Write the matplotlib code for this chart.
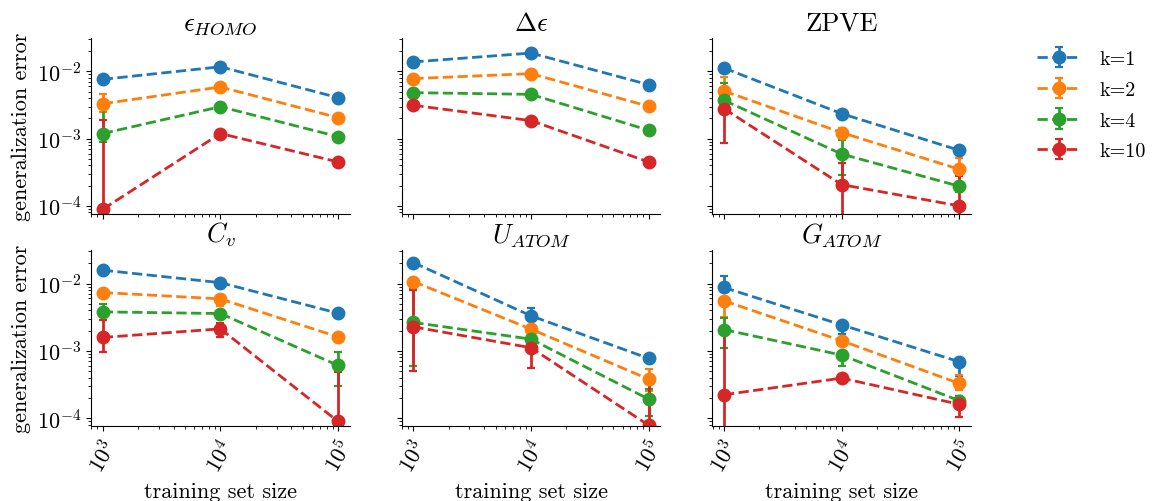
import numpy as np
import matplotlib
matplotlib.use('Agg')
import matplotlib.pyplot as plt

plt.rcParams.update({
    'font.family': 'serif', 'font.serif': ['cmr10'],
    'mathtext.fontset': 'cm', 'axes.unicode_minus': False,
    'axes.formatter.use_mathtext': True, 'font.size': 16,
    'axes.spines.right': False, 'axes.spines.top': False,
})

N_TRAIN = [1e3, 1e4, 1e5]
K_LABELS = ['k=1', 'k=2', 'k=4', 'k=10']
COLORS = ['tab:blue', 'tab:orange', 'tab:green', 'tab:red']
TITLES = [r'$\epsilon_{HOMO}$', r'$\Delta\epsilon$', 'ZPVE',
          r'$C_v$', r'$U_{ATOM}$', r'$G_{ATOM}$']

# rows: k=1, k=2, k=4, k=10 ; columns: 1e3, 1e4, 1e5
# *_LO / *_HI are the ends of the error bars (0 = bar runs off the log axis)
HOMO_MEAN = [[7.6e-3, 1.17e-2, 4.06e-3], [3.3e-3, 5.86e-3, 2.05e-3],
             [1.19e-3, 2.98e-3, 1.07e-3], [8.9e-5, 1.19e-3, 4.5e-4]]
HOMO_LO = [[7.2e-3, 1.12e-2, 3.9e-3], [2.5e-3, 5.5e-3, 1.95e-3],
           [8.9e-4, 2.8e-3, 1.0e-3], [0, 1.1e-3, 4.2e-4]]
HOMO_HI = [[8.0e-3, 1.22e-2, 4.2e-3], [4.6e-3, 6.2e-3, 2.15e-3],
           [2.8e-3, 3.2e-3, 1.12e-3], [1.87e-3, 1.28e-3, 4.8e-4]]

GAP_MEAN = [[1.38e-2, 1.87e-2, 6.33e-3], [7.8e-3, 9.25e-3, 3.02e-3],
            [4.82e-3, 4.55e-3, 1.33e-3], [3.13e-3, 1.85e-3, 4.5e-4]]
GAP_LO = [[1.33e-2, 1.8e-2, 6.1e-3], [7.5e-3, 8.9e-3, 2.9e-3],
          [4.6e-3, 4.35e-3, 1.27e-3], [3.0e-3, 1.77e-3, 3.9e-4]]
GAP_HI = [[1.43e-2, 1.94e-2, 6.55e-3], [8.1e-3, 9.6e-3, 3.14e-3],
          [5.0e-3, 4.75e-3, 1.39e-3], [3.26e-3, 1.93e-3, 5.1e-4]]

ZPVE_MEAN = [[1.12e-2, 2.35e-3, 6.7e-4], [5.1e-3, 1.23e-3, 3.5e-4],
             [3.71e-3, 5.9e-4, 1.96e-4], [2.79e-3, 2.07e-4, 1.0e-4]]
ZPVE_LO = [[1.08e-2, 2.25e-3, 5.9e-4], [3.0e-3, 1.0e-3, 2.2e-4],
           [2.3e-3, 2.92e-4, 1.6e-4], [8.73e-4, 0, 0]]
ZPVE_HI = [[1.16e-2, 2.45e-3, 7.5e-4], [8.15e-3, 1.45e-3, 5.2e-4],
           [6.7e-3, 9.44e-4, 2.3e-4], [4.7e-3, 4.4e-4, 2.76e-4]]

CV_MEAN = [[1.58e-2, 1.03e-2, 3.62e-3], [7.35e-3, 5.91e-3, 1.61e-3],
           [3.79e-3, 3.58e-3, 6.05e-4], [1.58e-3, 2.12e-3, 8.9e-5]]
CV_LO = [[1.5e-2, 9.1e-3, 3.5e-3], [7.0e-3, 4.66e-3, 1.55e-3],
         [3.4e-3, 3.0e-3, 3.0e-4], [9.44e-4, 1.63e-3, 7e-5]]
CV_HI = [[1.66e-2, 1.12e-2, 3.75e-3], [7.7e-3, 6.6e-3, 1.67e-3],
         [4.93e-3, 3.9e-3, 9.55e-4], [2.85e-3, 2.6e-3, 4.77e-4]]

U_MEAN = [[2.05e-2, 3.31e-3, 7.7e-4], [1.07e-2, 2.1e-3, 3.79e-4],
          [2.64e-3, 1.49e-3, 1.91e-4], [2.27e-3, 1.11e-3, 7.8e-5]]
U_LO = [[1.95e-2, 2.9e-3, 7.3e-4], [8.0e-3, 1.8e-3, 2.5e-4],
        [5.98e-4, 1.1e-3, 1.08e-4], [5.05e-4, 5.47e-4, 5e-5]]
U_HI = [[2.15e-2, 4.4e-3, 8.1e-4], [1.2e-2, 2.4e-3, 5.35e-4],
        [8.43e-3, 1.7e-3, 2.7e-4], [8.0e-3, 1.5e-3, 3.2e-4]]

G_MEAN = [[8.73e-3, 2.43e-3, 6.87e-4], [5.53e-3, 1.41e-3, 3.27e-4],
          [2.07e-3, 8.63e-4, 1.81e-4], [2.22e-4, 3.93e-4, 1.6e-4]]
G_LO = [[7.5e-3, 1.77e-3, 4.26e-4], [3.13e-3, 1.25e-3, 2.6e-4],
        [1.1e-3, 5.98e-4, 1.5e-4], [0, 3.6e-4, 1.02e-4]]
G_HI = [[1.3e-2, 2.7e-3, 7.6e-4], [6.2e-3, 1.55e-3, 4.35e-4],
        [3.06e-3, 9.5e-4, 2.1e-4], [2.0e-3, 4.3e-4, 2.15e-4]]

PANELS = [(HOMO_MEAN, HOMO_LO, HOMO_HI), (GAP_MEAN, GAP_LO, GAP_HI),
          (ZPVE_MEAN, ZPVE_LO, ZPVE_HI), (CV_MEAN, CV_LO, CV_HI),
          (U_MEAN, U_LO, U_HI), (G_MEAN, G_LO, G_HI)]

fig, axes = plt.subplots(2, 3, figsize=(11.53, 5.02), dpi=100, sharex=True, sharey=True)
plt.subplots_adjust(left=0.0789, right=0.8422, bottom=0.15, top=0.9223,
                    wspace=0.2, hspace=0.209)

for ax, title, (mean, lo, hi) in zip(axes.flat, TITLES, PANELS):
    for i in range(len(K_LABELS)):
        m = np.array(mean[i])
        yerr = [m - np.array(lo[i]), np.array(hi[i]) - m]
        ax.errorbar(N_TRAIN, m, yerr=yerr, fmt='o--', color=COLORS[i],
                    ms=9, lw=2.0, elinewidth=2.0, capsize=2.8, capthick=1.6,
                    label=K_LABELS[i])
    ax.set_xscale('log'); ax.set_yscale('log')
    ax.set_title(title)

ax.set_xlim(10**2.9, 10**5.1)
ax.set_ylim(7.7e-5, 3.13e-2)

for ax in axes[1]:
    ax.set_xlabel('training set size')
    ax.tick_params(axis='x', labelrotation=60)
for ax in axes[:, 0]:
    ax.set_ylabel('generalization error')

axes[0, 2].legend(loc='upper left', bbox_to_anchor=(1.185, 1.033), frameon=False,
                  fontsize=14.5, handlelength=2.2, handletextpad=0.9,
                  labelspacing=0.62)

plt.savefig('out.png', dpi=100)
